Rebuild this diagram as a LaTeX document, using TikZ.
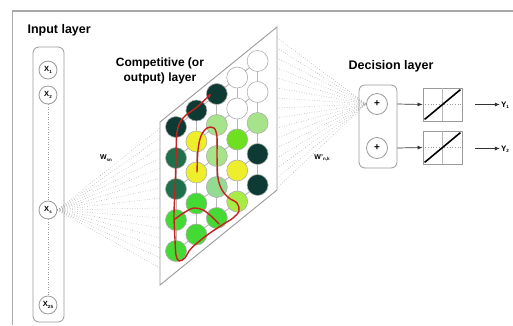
\documentclass[tikz,border=0pt]{standalone}
\usepackage{fontspec}
\setmainfont{Liberation Sans}
\usetikzlibrary{arrows.meta}
\definecolor{frameg}{HTML}{A8A8A8}
\definecolor{lineg}{HTML}{9A9A9A}
\definecolor{fang}{HTML}{999999}
\definecolor{cDT}{HTML}{0D3B34}
\definecolor{cDG}{HTML}{1F6E4C}
\definecolor{cBG}{HTML}{45D935}
\definecolor{cYL}{HTML}{EEEE2A}
\definecolor{cLG}{HTML}{A6E38A}
\definecolor{cPG}{HTML}{93DB93}
\definecolor{cBT}{HTML}{6EE020}
\definecolor{cYG}{HTML}{A9EB45}
\definecolor{cW}{HTML}{FFFFFF}
\definecolor{redp}{HTML}{C82020}
\newcommand\lowsub[1]{\raisebox{-1.3pt}{\fontsize{4.5}{5}\selectfont #1}}
\begin{document}
\begin{tikzpicture}[x=1pt,y=-1pt,
  frame/.style={draw=frameg, line width=1.1pt},
  layerbox/.style={draw=lineg, rounded corners=6pt, line width=0.8pt},
  neuron/.style={circle, draw=lineg, line width=0.8pt, minimum size=18pt, inner sep=0pt, font=\fontsize{7.5}{8}\selectfont\bfseries},
  cell/.style={circle, draw=lineg!80, line width=0.6pt, minimum size=21pt, inner sep=0pt},
  fan/.style={draw=fang, dotted, line width=0.5pt},
  lattice/.style={draw=lineg!70, line width=0.9pt},
  head/.style={font=\fontsize{12.5}{15}\selectfont\bfseries},
  wlab/.style={font=\fontsize{7}{8}\selectfont\bfseries, inner sep=1pt},
  arr/.style={-{Latex[length=5pt,width=4pt]}, line width=0.7pt, draw=black!80},
  tf/.style={draw=lineg, line width=0.8pt, minimum width=39pt, minimum height=33pt, inner sep=0pt},
  redpath/.style={draw=redp, line width=1.4pt, line cap=round, line join=round}
]
\useasboundingbox (0,0) rectangle (513,325);
\fill[white] (0,0) rectangle (513,325);
% outer frame
\draw[frame] (12.5,325) -- (12.5,11) -- (513,11);

% titles
\node[head, anchor=west] (tin) at (24,30) {Input layer};
\node[head, align=center, font=\fontsize{12}{15}\selectfont\bfseries] (tcomp) at (160,71) {Competitive (or\\output) layer};
\node[head] (tdec) at (391,66) {Decision layer};

% input layer
\node[layerbox, minimum width=31pt, minimum height=275pt] (inbox) at (48.5,184.5) {};
\node[neuron] (x1) at (48,70) {X\lowsub{1}};
\node[neuron] (x2) at (48,95) {X\lowsub{2}};
\node[neuron] (xs) at (48,210) {X\lowsub{s}};
\node[neuron] (xn) at (48,305) {X\lowsub{25}};
\draw[fan, draw=lineg] (x2.south) -- (xs.north);
\draw[fan, draw=lineg] (xs.south) -- (xn.north);

% fan from X_s to the competitive layer
\foreach \i in {0,...,14}{
  \coordinate (fl\i) at (160,{128+10*\i});
  \draw[fan] (xs.east) -- (fl\i);
}
\node[wlab] (wsn) at (106,158) {W\lowsub{sn}};

% decision layer
\node[layerbox, minimum width=38pt, minimum height=83pt] (dbox) at (378,126.5) {};
\node[neuron, minimum size=21pt, font=\fontsize{10}{10}\selectfont\bfseries] (p1) at (377,104) {+};
\node[neuron, minimum size=21pt, font=\fontsize{10}{10}\selectfont\bfseries] (p2) at (377,148) {+};

% fan from the competitive layer to the decision layer
\foreach \i in {0,...,15}{
  \coordinate (fr\i) at (277,{38+10*\i});
  \draw[fan] (fr\i) -- (p1.west);
}
\node[wlab] (wnk) at (322,158) {W'\lowsub{n,k}};

% competitive layer plane
\coordinate (pA) at (160,122);
\coordinate (pB) at (277,27);
\coordinate (pC) at (277,190);
\coordinate (pD) at (160,285);
\draw[draw=lineg, line width=0.9pt, fill=white] (pA) -- (pB) -- (pC) -- (pD) -- cycle;

% lattice
\foreach \c in {0,...,4}{
  \coordinate (v\c) at ({176+20.4*\c},{127-16.5*\c});
  \coordinate (w\c) at ({176+20.4*\c},{127-16.5*\c+124});
  \draw[lattice] (v\c) -- (w\c);
}
\foreach \r in {0,...,4}{
  \coordinate (h\r) at (176,{127+31*\r});
  \coordinate (k\r) at ({176+81.6},{127-66+31*\r});
  \draw[lattice] (h\r) -- (k\r);
}
% neurons of the map
\foreach \c/\colist in {0/{cDT,cDG,cDG,cBG,cBG},1/{cDT,cYL,cYL,cBG,cBG},2/{cDT,cLG,cLG,cPG,cBG},3/{cW,cW,cBT,cYL,cYG},4/{cW,cW,cLG,cDT,cDT}}{
  \foreach \col [count=\r from 0] in \colist{
    \node[cell, fill=\col] (m\c\r) at ({176+20.4*\c},{127-16.5*\c+31*\r}) {};
  }
}

% red trajectory
\draw[redpath, -{Stealth[length=4pt,width=4pt]}] plot[smooth, tension=0.55] coordinates {
 (197,172) (198,150) (201,136) (207,128) (214,128) (217,137) (217,156) (218,178) (222,190) (229,198) (237,203) (239,211) (233,218) (222,225) (210,233) (197,243) (189,251) (185,258) (179,261) (176,255) (175,240) (174,215) (175,190) (176,160) (177,132) (183,118) (197,107) (211,94)};
\draw[redpath] plot[smooth, tension=0.55] coordinates {
 (175,219) (185,212) (194,208) (203,210) (211,216) (219,224)};

% transfer functions
\node[tf] (tf1) at (442.5,104.5) {};
\node[tf] (tf2) at (442.5,147.5) {};
\foreach \t in {tf1,tf2}{
  \draw[draw=lineg!70, line width=0.4pt] (\t.north) -- (\t.south);
  \draw[draw=lineg, dotted, line width=0.7pt] (\t.west) -- (\t.east);
  \draw[line width=1.6pt] ([shift={(2,-2)}]\t.south west) -- ([shift={(-2,2)}]\t.north east);
}
\draw[arr] (dbox.east |- p1) -- (tf1.west);
\draw[arr] (dbox.east |- p2) -- (tf2.west);

% outputs
\node[font=\fontsize{8}{9}\selectfont\bfseries, inner sep=1pt] (y1) at (505,105) {Y\lowsub{1}};
\node[font=\fontsize{8}{9}\selectfont\bfseries, inner sep=1pt] (y2) at (505,149) {Y\lowsub{2}};
\coordinate (o1) at (475,104.5);
\coordinate (o2) at (475,148.5);
\draw[arr] (o1) -- (y1.west |- o1);
\draw[arr] (o2) -- (y2.west |- o2);
\end{tikzpicture}
\end{document}
